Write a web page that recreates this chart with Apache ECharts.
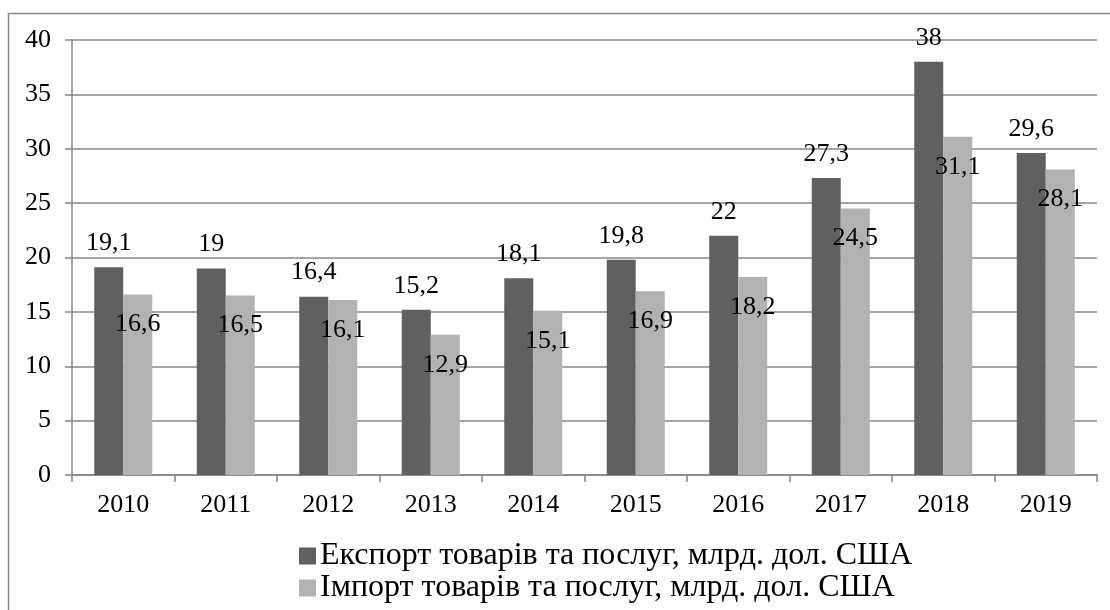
<!DOCTYPE html>
<html>
<head>
<meta charset="utf-8">
<script src="https://cdn.jsdelivr.net/npm/echarts@6/dist/echarts.min.js"></script>
<style>
  html, body { margin: 0; padding: 0; background: #fff; }
  #chart { width: 1110px; height: 610px; }
</style>
</head>
<body>
<div id="chart"></div>
<script>
// Years on the category axis
const years = ['2010', '2011', '2012', '2013', '2014', '2015', '2016', '2017', '2018', '2019'];
// Export of goods and services, bn USD
const exportValues = [19.1, 19.0, 16.4, 15.2, 18.1, 19.8, 22.0, 27.3, 38.0, 29.6];
// Import of goods and services, bn USD
const importValues = [16.6, 16.5, 16.1, 12.9, 15.1, 16.9, 18.2, 24.5, 31.1, 28.1];
const seriesNames = [
  'Експорт товарів та послуг, млрд. дол. США',
  'Імпорт товарів та послуг, млрд. дол. США'
];

const FONT = '"Liberation Serif", "DejaVu Serif", serif';
const commaFmt = p => String(p.value).replace('.', ',');

const chart = echarts.init(document.getElementById('chart'), null, { renderer: 'canvas' });
chart.setOption({
  animation: false,
  backgroundColor: '#ffffff',
  textStyle: { fontFamily: FONT, color: '#000' },
  graphic: [{
    type: 'rect',
    shape: { x: 8.5, y: 13.5, width: 1120, height: 620 },
    style: { fill: 'none', stroke: '#878787', lineWidth: 1.5 },
    silent: true
  }],
  grid: { left: 72, right: 13, top: 40, bottom: 135, containLabel: false },
  legend: {
    orient: 'vertical',
    left: 299,
    top: 540,
    padding: 0,
    itemWidth: 17,
    itemHeight: 17,
    itemGap: 0,
    icon: 'rect',
    textStyle: { fontFamily: FONT, fontSize: 32, lineHeight: 32, color: '#000', padding: [0, 0, 0, -1] },
    data: seriesNames
  },
  xAxis: {
    type: 'category',
    data: years,
    axisLine: { show: true, lineStyle: { color: '#878787', width: 1.5 } },
    axisTick: { show: true, length: 7, lineStyle: { color: '#878787', width: 1.5 } },
    axisLabel: { fontFamily: FONT, fontSize: 26, color: '#000', margin: 17 }
  },
  yAxis: {
    type: 'value',
    min: 0,
    max: 40,
    interval: 5,
    axisLine: { show: true, lineStyle: { color: '#878787', width: 1.5 } },
    axisTick: { show: true, length: 7, lineStyle: { color: '#878787', width: 1.5 } },
    splitLine: { show: true, lineStyle: { color: '#878787', width: 1.5 } },
    axisLabel: { fontFamily: FONT, fontSize: 26, color: '#000', margin: 21 }
  },
  series: [
    {
      name: seriesNames[0],
      type: 'bar',
      data: exportValues,
      barWidth: 29,
      barGap: '0%',
      itemStyle: { color: '#606060' },
      label: {
        show: true,
        position: 'top',
        distance: 11,
        fontFamily: FONT,
        fontSize: 26,
        color: '#000',
        formatter: commaFmt
      }
    },
    {
      name: seriesNames[1],
      type: 'bar',
      data: importValues,
      barWidth: 29,
      barGap: '0%',
      itemStyle: { color: '#b2b2b2' },
      label: {
        show: true,
        position: 'insideTop',
        distance: 17,
        fontFamily: FONT,
        fontSize: 26,
        color: '#000',
        formatter: commaFmt
      }
    }
  ]
});
</script>
</body>
</html>
